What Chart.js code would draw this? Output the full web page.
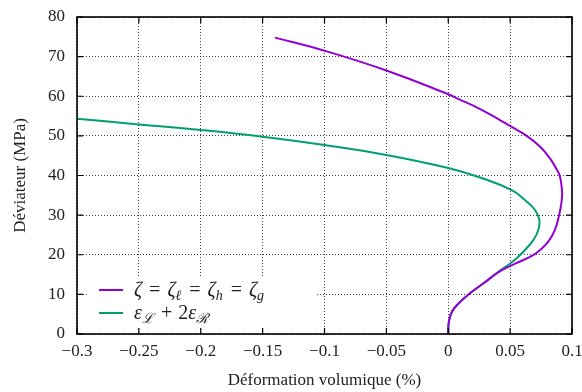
<!DOCTYPE html>
<html>
<head>
<meta charset="utf-8">
<script src="https://cdn.jsdelivr.net/npm/chart.js@4.4.0/dist/chart.umd.min.js"></script>
<style>
  html, body { margin: 0; padding: 0; background: #fff; }
</style>
</head>
<body>
<canvas id="myChart" width="582" height="392"></canvas>
<script>
const xTicks = [-0.3, -0.25, -0.2, -0.15, -0.1, -0.05, 0, 0.05, 0.1];
const yTicks = [0, 10, 20, 30, 40, 50, 60, 70, 80];

// zeta = zeta_l = zeta_h = zeta_g  (purple)
const zetaStrain = [0, 0.0005, 0.003, 0.0083, 0.0164, 0.0285, 0.0406, 0.049, 0.058, 0.0687, 0.0741, 0.0808, 0.0861, 0.0896, 0.0915, 0.0920, 0.0915, 0.0901, 0.0875, 0.0822, 0.0741, 0.0634, 0.050, 0.0418, 0.025, 0.0097, 0.0, -0.05, -0.1, -0.14];
const zetaDev    = [0, 3.1, 5.6, 7.7, 10, 12.8, 15.6, 17.0, 18.3, 19.9, 21.2, 23.3, 26.2, 30, 33.2, 35.5, 37.4, 39.9, 41.6, 44.3, 47.3, 50, 52.5, 54, 56.9, 59.1, 60.5, 66.5, 71.5, 74.8];

// eps_L + 2 eps_R  (green)
const epsStrain = [0, 0.0005, 0.003, 0.0083, 0.0164, 0.0285, 0.0406, 0.0501, 0.0552, 0.062, 0.0687, 0.0727, 0.0736, 0.0701, 0.062, 0.0513, 0.0257, 0.0, -0.05, -0.1, -0.15, -0.2, -0.25, -0.3];
const epsDev    = [0, 3.1, 5.6, 7.7, 10, 12.8, 15.7, 17.8, 19.1, 21.2, 23.7, 26.2, 28.8, 31.3, 33.8, 36.3, 39.5, 41.9, 45.2, 47.7, 49.8, 51.5, 52.9, 54.3];

const purple = '#9400d3';
const green = '#009e73';
const serif = '"Liberation Serif", "DejaVu Serif", serif';

function toPoints(xs, ys) {
  return xs.map((x, i) => ({ x: x, y: ys[i] }));
}

function fmt(v) {
  const s = String(Number(v.toFixed(2)));
  return s.replace('-', '\u2212');
}

// legend rows written as math pieces: [text, kind] or gap number
const legendRows = [
  { color: purple, parts: [['ζ', 'i'], 7, ['=', 'r'], 7, ['ζ', 'i'], ['ℓ', 's'], 7, ['=', 'r'], 7, ['ζ', 'i'], ['h', 's'], 7, ['=', 'r'], 7, ['ζ', 'i'], ['g', 's']] },
  { color: green, parts: [['ε', 'i'], ['ℒ', 's'], 6, ['+', 'r'], 6, ['2', 'r'], ['ε', 'i'], ['ℛ', 's']] }
];

function drawMath(ctx, x, y, parts) {
  ctx.textBaseline = 'alphabetic';
  ctx.textAlign = 'left';
  ctx.fillStyle = '#222';
  parts.forEach(p => {
    if (typeof p === 'number') { x += p; return; }
    const [t, kind] = p;
    if (kind === 's') ctx.font = 'italic 14px ' + serif;
    else if (kind === 'i') ctx.font = 'italic 20px ' + serif;
    else ctx.font = '20px ' + serif;
    ctx.fillText(t, x, y + (kind === 's' ? 4 : 0));
    x += ctx.measureText(t).width + (kind === 's' ? 1 : 0);
  });
}

const framePlugin = {
  id: 'frame',
  afterDraw(chart) {
    const ctx = chart.ctx;
    const a = chart.chartArea;
    const xs = chart.scales.x, ys = chart.scales.y;
    ctx.save();
    // legend box
    ctx.fillStyle = '#fff';
    ctx.fillRect(87, 277, 228, 50);
    legendRows.forEach((row, i) => {
      const y = 290 + i * 23;
      ctx.strokeStyle = row.color;
      ctx.lineWidth = 2;
      ctx.beginPath();
      ctx.moveTo(99, y);
      ctx.lineTo(123, y);
      ctx.stroke();
      drawMath(ctx, 134, y + 6, row.parts);
    });
    // inward ticks
    ctx.strokeStyle = '#000';
    ctx.lineWidth = 1.2;
    ctx.beginPath();
    xTicks.forEach(v => {
      const px = xs.getPixelForValue(v);
      ctx.moveTo(px, a.bottom); ctx.lineTo(px, a.bottom - 6);
      ctx.moveTo(px, a.top); ctx.lineTo(px, a.top + 6);
    });
    yTicks.forEach(v => {
      const py = ys.getPixelForValue(v);
      ctx.moveTo(a.left, py); ctx.lineTo(a.left + 6, py);
      ctx.moveTo(a.right, py); ctx.lineTo(a.right - 6, py);
    });
    ctx.stroke();
    // frame
    ctx.lineWidth = 1.6;
    ctx.strokeRect(a.left, a.top, a.right - a.left, a.bottom - a.top);
    ctx.restore();
  }
};

const gridOpts = {
  color: 'rgba(0,0,0,0.75)',
  lineWidth: 1,
  drawTicks: false
};

function noPad(s) {
  s.paddingLeft = 0;
  s.paddingRight = 0;
  s.paddingTop = 0;
  s.paddingBottom = 0;
}

new Chart(document.getElementById('myChart'), {
  type: 'line',
  data: {
    datasets: [
      {
        label: 'zeta',
        data: toPoints(zetaStrain, zetaDev),
        borderColor: purple,
        borderWidth: 2,
        fill: false,
        pointRadius: 0,
        tension: 0.45
      },
      {
        label: 'eps',
        data: toPoints(epsStrain, epsDev),
        borderColor: green,
        borderWidth: 2,
        fill: false,
        pointRadius: 0,
        tension: 0.45
      }
    ]
  },
  options: {
    responsive: false,
    animation: false,
    layout: { padding: { top: 17, right: 10, left: 0, bottom: 0 } },
    plugins: {
      legend: { display: false },
      tooltip: { enabled: false }
    },
    scales: {
      x: {
        type: 'linear',
        min: -0.3,
        max: 0.1,
        afterBuildTicks: s => { s.ticks = xTicks.map(v => ({ value: v })); },
        afterFit: s => { s.height = 58; noPad(s); },
        border: { display: false, dash: [1, 2] },
        grid: gridOpts,
        ticks: {
          color: '#222',
          padding: 7,
          maxRotation: 0,
          font: { family: serif, size: 17 },
          callback: v => fmt(v)
        },
        title: {
          display: true,
          text: 'Déformation volumique (%)',
          color: '#222',
          font: { family: serif, size: 17 },
          padding: { top: 0, bottom: 1 }
        }
      },
      y: {
        type: 'linear',
        min: 0,
        max: 80,
        afterBuildTicks: s => { s.ticks = yTicks.map(v => ({ value: v })); },
        afterFit: s => { s.width = 77; noPad(s); },
        border: { display: false, dash: [1, 2] },
        grid: gridOpts,
        ticks: {
          color: '#222',
          padding: 12,
          font: { family: serif, size: 17 },
          callback: v => fmt(v)
        },
        title: {
          display: true,
          text: 'Déviateur (MPa)',
          color: '#222',
          font: { family: serif, size: 17 },
          padding: { top: 10, bottom: 0 }
        }
      }
    }
  },
  plugins: [framePlugin]
});
</script>
</body>
</html>
